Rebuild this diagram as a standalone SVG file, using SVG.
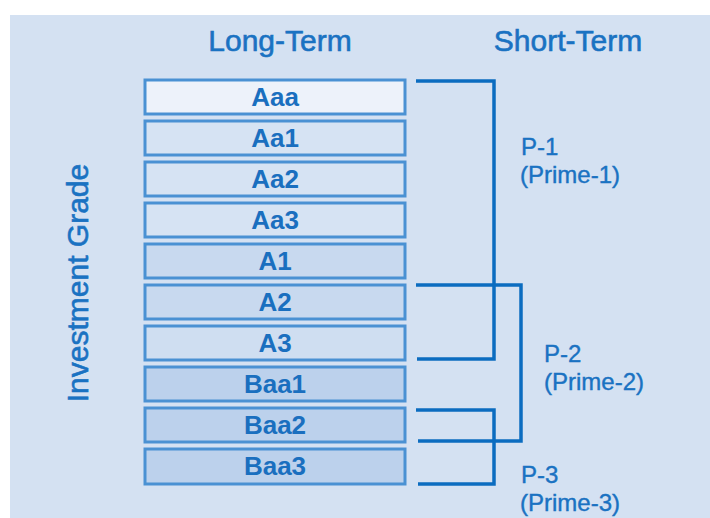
<svg xmlns="http://www.w3.org/2000/svg" width="710" height="518" viewBox="0 0 710 518">
<style>
.hdr{font-family:"Liberation Sans",Arial,sans-serif;font-size:30px;fill:#1a72c2;stroke:#1a72c2;stroke-width:0.6;text-anchor:middle}
.box rect{stroke:#4a91d3;stroke-width:3}
.box text{font-family:"Liberation Sans",Arial,sans-serif;font-size:26px;font-weight:bold;fill:#1a6fbf;text-anchor:middle}
.lbl{font-family:"Liberation Sans",Arial,sans-serif;font-size:24px;fill:#1a72c2;stroke:#1a72c2;stroke-width:0.4}
.con{fill:none;stroke:#0b6cc0;stroke-width:3.5}
</style>
<rect x="0" y="0" width="710" height="518" fill="#ffffff"/>
<rect x="10" y="15" width="700" height="503" fill="#d4e1f2"/>
<text class="hdr" x="280" y="51">Long-Term</text>
<text class="hdr" x="568" y="51">Short-Term</text>
<text class="hdr" transform="translate(88,283) rotate(-90)" x="0" y="0">Investment Grade</text>
<g id="aaa" class="box"><rect x="145" y="80" width="260" height="34" fill="#edf2fa"/><text x="275" y="106">Aaa</text></g>
<g id="aa1" class="box"><rect x="145" y="121" width="260" height="34" fill="#d6e3f3"/><text x="275" y="147">Aa1</text></g>
<g id="aa2" class="box"><rect x="145" y="162" width="260" height="34" fill="#d6e3f3"/><text x="275" y="188">Aa2</text></g>
<g id="aa3" class="box"><rect x="145" y="203" width="260" height="34" fill="#d6e3f3"/><text x="275" y="229">Aa3</text></g>
<g id="a1" class="box"><rect x="145" y="244" width="260" height="34" fill="#c8d9ef"/><text x="275" y="270">A1</text></g>
<g id="a2" class="box"><rect x="145" y="285" width="260" height="34" fill="#c8d9ef"/><text x="275" y="311">A2</text></g>
<g id="a3" class="box"><rect x="145" y="326" width="260" height="34" fill="#cfdef1"/><text x="275" y="352">A3</text></g>
<g id="baa1" class="box"><rect x="145" y="367" width="260" height="34" fill="#bcd1ec"/><text x="275" y="393">Baa1</text></g>
<g id="baa2" class="box"><rect x="145" y="408" width="260" height="34" fill="#bcd1ec"/><text x="275" y="434">Baa2</text></g>
<g id="baa3" class="box"><rect x="145" y="449" width="260" height="35" fill="#bcd1ec"/><text x="275" y="475">Baa3</text></g>
<g id="connectors">
<polyline class="con" points="416,81 494,81 494,359 417,359"/>
<polyline class="con" points="416,285 521,285 521,441 418,441"/>
<polyline class="con" points="416,410 494,410 494,484 418,484"/>
</g>
<g id="p1"><text class="lbl" x="521" y="155">P-1</text><text class="lbl" x="520" y="183">(Prime-1)</text></g>
<g id="p2"><text class="lbl" x="544" y="362">P-2</text><text class="lbl" x="544" y="390">(Prime-2)</text></g>
<g id="p3"><text class="lbl" x="521" y="483">P-3</text><text class="lbl" x="520" y="511">(Prime-3)</text></g>
</svg>
